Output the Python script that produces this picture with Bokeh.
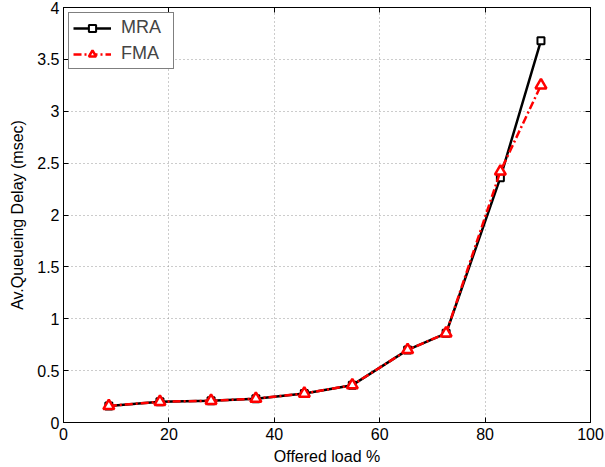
from bokeh.plotting import figure
from bokeh.embed import file_html
from bokeh.resources import INLINE
from bokeh.models import Range1d, LinearAxis, FixedTicker, Legend, LegendItem

load = [8.6, 18.3, 28.0, 36.5, 45.7, 54.8, 65.3, 72.6, 82.9, 90.6]
mra = [0.16, 0.20, 0.21, 0.23, 0.28, 0.36, 0.70, 0.86, 2.36, 3.68]
fma = [0.16, 0.20, 0.21, 0.23, 0.28, 0.36, 0.70, 0.86, 2.42, 3.25]
x_ticks = [0, 20, 40, 60, 80, 100]
y_ticks = [0, 0.5, 1, 1.5, 2, 2.5, 3, 3.5, 4]

FONT = "Liberation Sans"

p = figure(width=605, height=467, output_backend="svg", toolbar_location=None,
           x_range=Range1d(0, 100), y_range=Range1d(0, 4),
           min_border_left=63, min_border_right=15, min_border_top=7, min_border_bottom=44)
p.background_fill_color = "white"
p.border_fill_color = "white"
p.outline_line_color = "black"
p.outline_line_width = 1

for ax, ticks in ((p.xaxis[0], x_ticks), (p.yaxis[0], y_ticks)):
    ax.ticker = FixedTicker(ticks=ticks)
    ax.major_tick_in = 5
    ax.major_tick_out = 0
    ax.minor_tick_line_color = None
    ax.major_label_text_font = FONT
    ax.major_label_text_font_size = "16px"
    ax.major_label_text_color = "black"
    ax.axis_label_text_font = FONT
    ax.axis_label_text_font_size = "16px"
    ax.axis_label_text_font_style = "normal"
    ax.axis_label_text_color = "black"
    ax.axis_line_color = "black"
    ax.major_tick_line_color = "black"

p.xaxis.axis_label = "Offered load %"
p.yaxis.axis_label = "Av.Queueing Delay (msec)"
p.xaxis.axis_label_standoff = 5
p.yaxis.axis_label_standoff = 8
p.yaxis.major_label_standoff = 4
p.xaxis.major_label_standoff = 5

# mirrored ticks on top and right
top = LinearAxis(ticker=FixedTicker(ticks=x_ticks), major_tick_in=5, major_tick_out=0,
                 minor_tick_line_color=None, major_label_text_font_size="0px",
                 major_label_text_color=None, axis_line_color="black")
right = LinearAxis(ticker=FixedTicker(ticks=y_ticks), major_tick_in=5, major_tick_out=0,
                   minor_tick_line_color=None, major_label_text_font_size="0px",
                   major_label_text_color=None, axis_line_color="black")
p.add_layout(top, "above")
p.add_layout(right, "right")

p.xgrid.ticker = FixedTicker(ticks=x_ticks)
p.ygrid.ticker = FixedTicker(ticks=y_ticks)
for g in (p.xgrid[0], p.ygrid[0]):
    g.grid_line_color = "#999999"
    g.grid_line_dash = "1 3"
    g.grid_line_width = 1

l1 = p.line(load, mra, line_color="black", line_width=2.5)
s1 = p.scatter(load, mra, marker="square", size=7, line_color="black", line_width=2, fill_color="white")
l2 = p.line(load, fma, line_color="red", line_width=2.5, line_dash="8 3 2 3")
s2 = p.scatter(load, fma, marker="triangle", size=11, line_color="red", line_width=2.5, fill_color="white")

legend = Legend(items=[LegendItem(label="MRA", renderers=[l1, s1]),
                       LegendItem(label="FMA", renderers=[l2, s2])],
                location="top_left")
legend.label_text_font = FONT
legend.label_text_font_size = "18px"
legend.border_line_color = "black"
legend.border_line_width = 1
legend.glyph_width = 38
legend.glyph_height = 18
legend.label_height = 18
legend.label_width = 48
legend.spacing = 5
legend.padding = 4
legend.margin = 5
legend.label_standoff = 10
legend.background_fill_alpha = 1
p.add_layout(legend)

open("out.html", "w").write(file_html(p, INLINE))
